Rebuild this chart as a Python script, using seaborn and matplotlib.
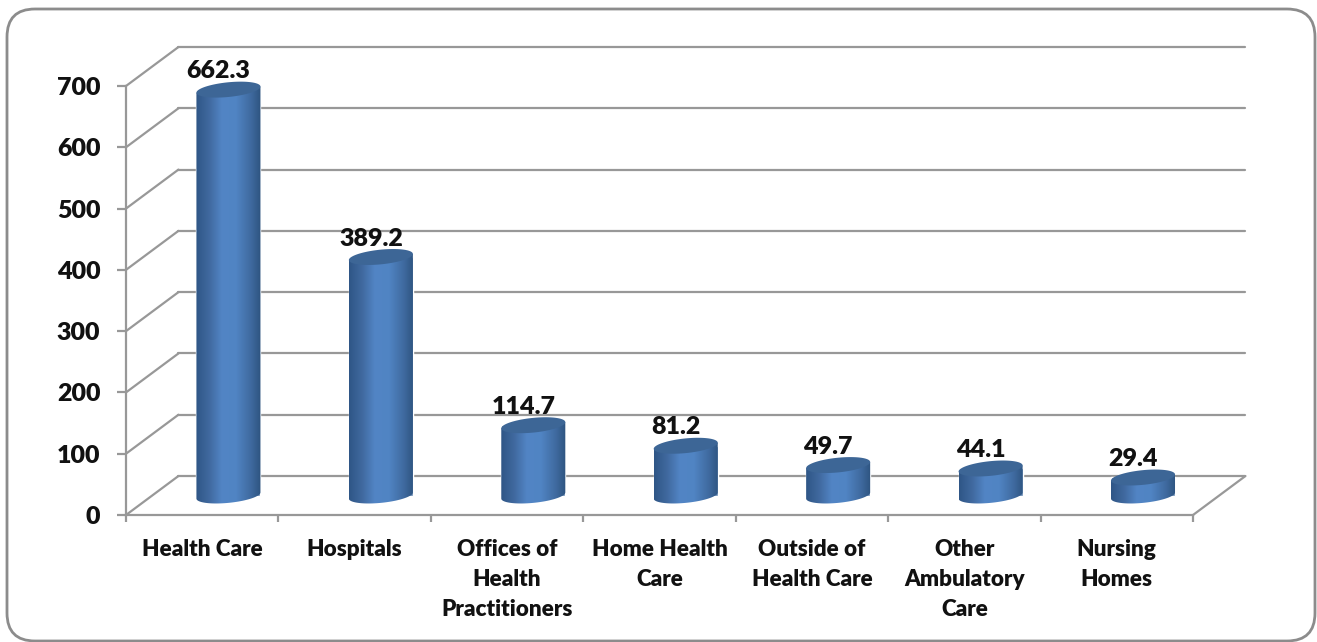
import numpy as np
import pandas as pd
import matplotlib.pyplot as plt
import seaborn as sns
from matplotlib.colors import LinearSegmentedColormap
from matplotlib.patches import FancyBboxPatch, PathPatch
from matplotlib.path import Path

categories = ['Health Care', 'Hospitals', 'Offices of\nHealth\nPractitioners', 'Home Health\nCare',
              'Outside of\nHealth Care', 'Other\nAmbulatory\nCare', 'Nursing\nHomes']
values = [662.3, 389.2, 114.7, 81.2, 49.7, 44.1, 29.4]
yticks = [0, 100, 200, 300, 400, 500, 600, 700]

sns.set_theme(style='white')
plt.rcParams['font.family'] = ['Lato', 'DejaVu Sans']

W, H = 1317, 642
GREY = '#989898'
TXT = '#111111'
# depth of the fake 3d box, in data units
DX, DY = 0.344, 63.6

fig = plt.figure(figsize=(W / 100, H / 100), dpi=100)

# rounded frame, drawn in pixels
bg = fig.add_axes([0, 0, 1, 1])
bg.set_xlim(0, W)
bg.set_ylim(H, 0)
bg.axis('off')
bg.add_patch(FancyBboxPatch((7 + 28, 9 + 28), 1308 - 56, 632 - 56, boxstyle='round,pad=28,rounding_size=28',
                            fc='white', ec='#8c8c8c', lw=2))

ax = fig.add_axes([126 / W, 1 - 515 / H, (1193 - 126) / W, (515 - 86) / H], facecolor='none')
df = pd.DataFrame({'category': categories, 'value': values})
sns.barplot(data=df, x='category', y='value', width=0.42, color='#4f81bd', ax=ax, zorder=3)

# back wall and floor lines
for t in yticks:
    ax.plot([-0.5, -0.5 + DX], [t, t + DY], color=GREY, lw=1.6, clip_on=False, zorder=1)
    ax.plot([-0.5 + DX, 6.5 + DX], [t + DY, t + DY], color=GREY, lw=1.6, clip_on=False, zorder=1)
ax.plot([6.5, 6.5 + DX], [0, DY], color=GREY, lw=1.6, clip_on=False, zorder=1)

# shading across each cylinder
body = LinearSegmentedColormap.from_list('body', [(0, '#2f5686'), (0.2, '#40699f'), (0.4, '#5285c5'),
                                                  (0.62, '#5084c3'), (0.85, '#3f6a9f'), (1, '#2e5480')])
grad = np.linspace(0, 1, 128).reshape(1, -1)
B, TILT = 12, 5
t = np.linspace(0, 2 * np.pi, 97)

for bar, v in zip(ax.patches, values):
    bar.set_x(bar.get_x() + DX / 2)
    bar.set_y(DY / 2)
    bar.set_clip_on(False)
    x0, w = bar.get_x(), bar.get_width()
    cx = x0 + w / 2
    top = v + DY / 2
    ex = cx + w / 2 * np.cos(t)
    # lower half of the base, going from the left end to the right end
    low = np.linspace(np.pi, 2 * np.pi, 49)
    bx = cx + w / 2 * np.cos(low)
    by = DY / 2 + B * np.sin(low) + TILT * np.cos(low)
    verts = np.column_stack([np.r_[x0, bx, x0 + w], np.r_[top - TILT, by, top + TILT]])
    clip = PathPatch(Path(verts), transform=ax.transData, fc='none', ec='none')
    ax.add_patch(clip)
    im = ax.imshow(grad, cmap=body, extent=(x0, x0 + w, 0, top + 30), aspect='auto', zorder=4, clip_on=True)
    im.set_clip_path(clip)
    ax.fill(ex, top + B * np.sin(t) + TILT * np.cos(t), color='#3d6696', clip_on=False, zorder=5, lw=0)
    ax.text(cx - 0.065, v + DY - 2, f'{v}', ha='center', va='center', fontsize=18, fontweight='heavy',
            color=TXT, zorder=6)

ax.set_xlim(-0.5, 6.5)
ax.set_ylim(0, 700)
ax.set_xlabel('')
ax.set_ylabel('')
ax.set_yticks(yticks)
ax.set_xticks(range(7))
ax.set_xticklabels(categories, fontsize=16.2, fontweight='heavy', color=TXT, linespacing=1.55)
ax.set_xticks(np.arange(-0.5, 7), minor=True)
ax.tick_params(axis='x', which='major', length=0, pad=17)
ax.tick_params(axis='x', which='minor', length=5, width=1.6, color=GREY, bottom=True)
ax.tick_params(axis='y', length=6.5, width=1.6, color=GREY, pad=12, left=True, labelsize=18, labelcolor=TXT)
for lab in ax.get_yticklabels():
    lab.set_fontweight('heavy')
sns.despine(ax=ax)
for side in ['left', 'bottom']:
    ax.spines[side].set_color(GREY)
    ax.spines[side].set_linewidth(1.6)

fig.savefig('out.png', dpi=100)
